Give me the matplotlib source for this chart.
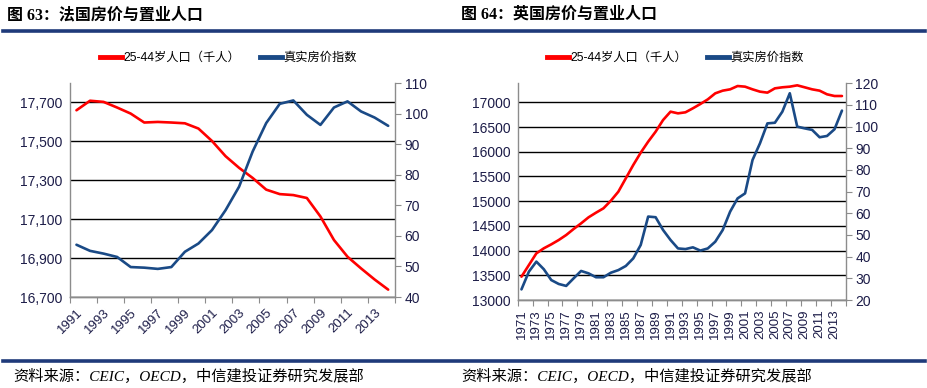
import matplotlib.pyplot as plt
from matplotlib.lines import Line2D
from matplotlib.ticker import FuncFormatter

plt.rcParams['font.family'] = ['Liberation Sans', 'Noto Sans CJK SC']

# France, 1991-2014
fr_years = list(range(1991, 2015))
fr_pop = [17660, 17709, 17703, 17674, 17643, 17597, 17600, 17597, 17593, 17566,
          17502, 17424, 17364, 17312, 17252, 17229, 17224, 17209, 17114, 16993,
          16907, 16847, 16790, 16738]
fr_price = [57.1, 55.1, 54.2, 53.1, 49.8, 49.6, 49.2, 49.8, 54.8, 57.5,
            61.9, 68.4, 76.1, 87.6, 96.9, 103.2, 104.3, 99.6, 96.3, 102.0,
            104.0, 100.7, 98.7, 96.0]

# UK, 1971-2014
uk_years = list(range(1971, 2015))
uk_pop = [13472, 13708, 13944, 14046, 14126, 14214, 14315, 14437, 14551, 14673,
          14767, 14855, 15010, 15192, 15462, 15732, 15981, 16204, 16406, 16642,
          16811, 16777, 16798, 16879, 16966, 17060, 17182, 17236, 17263, 17330,
          17317, 17263, 17216, 17196, 17283, 17304, 17317, 17344, 17304, 17263,
          17236, 17162, 17128, 17128]
uk_price = [24.9, 33.1, 37.7, 34.2, 29.2, 27.4, 26.5, 30.0, 33.4, 32.3,
            30.5, 30.5, 32.6, 33.8, 35.7, 39.2, 45.4, 58.5, 58.2, 52.3,
            47.7, 43.8, 43.5, 44.3, 42.8, 43.8, 46.9, 52.3, 60.8, 66.9,
            69.2, 84.6, 92.3, 101.5, 101.8, 106.9, 115.4, 100.0, 99.2, 98.5,
            95.1, 95.7, 98.8, 107.4]

pop_label = '25-44岁人口（千人）'
price_label = '真实房价指数'
RED = '#ff0000'
BLUE = '#1a4a86'
NAVY = '#1f3a7a'
TICK_C = '#1c1c48'
GRAY = '#8c8c8c'

fig = plt.figure(figsize=(9.28, 3.88), dpi=100)


def draw_panel(rect, years, pop, price, ylim_l, lticks, ylim_r, rticks, rot, lfmt):
    ax = fig.add_axes(rect)
    ax2 = ax.twinx()
    x = list(range(len(years)))
    ax.plot(x, pop, color=RED, lw=1.9, solid_capstyle='round', zorder=3)
    ax2.plot(x, price, color=BLUE, lw=1.9, solid_capstyle='round', zorder=3)

    n = len(years)
    ax.set_xlim(-0.5, n - 0.5)
    ax.set_ylim(*ylim_l)
    ax.set_yticks(lticks)
    ax.yaxis.set_major_formatter(FuncFormatter(lfmt))
    ax2.set_ylim(*ylim_r)
    ax2.set_yticks(rticks)
    ax.grid(axis='y', color='black', lw=1.0)
    ax.set_axisbelow(True)

    # category-style ticks at boundaries, labels every 2nd year
    ax.set_xticks([i - 0.5 for i in range(0, n + 1, 2)])
    ax.set_xticklabels([])
    ax.set_xticks(list(range(0, n, 2)), minor=True)
    labs = [str(years[i]) for i in range(0, n, 2)]
    if rot == 45:
        ax.set_xticklabels(labs, minor=True, rotation=45, ha='right', va='top',
                           rotation_mode='anchor')
    else:
        ax.set_xticklabels(labs, minor=True, rotation=90, ha='center', va='top')
    ax.tick_params(axis='x', which='minor', length=0, pad=7, labelsize=9.5,
                   labelcolor=TICK_C)
    ax.tick_params(axis='x', which='major', length=4, color=GRAY, direction='out')
    ax.tick_params(axis='y', length=0, labelsize=10, labelcolor=TICK_C, pad=5)
    ax2.tick_params(axis='y', length=4, color=GRAY, labelsize=10,
                    labelcolor=TICK_C, pad=3)

    for a in (ax, ax2):
        a.spines['top'].set_visible(False)
        for s in ('left', 'right', 'bottom'):
            a.spines[s].set_color(GRAY)
            a.spines[s].set_linewidth(1.0)
    ax2.spines['left'].set_visible(False)
    ax.spines['right'].set_visible(False)
    ax.patch.set_visible(False)
    return ax, ax2


draw_panel([0.0751, 0.2345, 0.3505, 0.5515], fr_years, fr_pop, fr_price,
           (16700, 17800), list(range(16700, 17701, 200)), (40, 110),
           list(range(40, 111, 10)), 45, lambda v, p: f'{int(v):,}')
draw_panel([0.5579, 0.2268, 0.3534, 0.5585], uk_years, uk_pop, uk_price,
           (13000, 17385), list(range(13000, 17001, 500)), (20, 120),
           list(range(20, 121, 10)), 90, lambda v, p: f'{int(v)}')

handles = [Line2D([], [], color=RED, lw=3.5), Line2D([], [], color=BLUE, lw=3.5)]
for cx in (0.246, 0.728):
    fig.legend(handles, [pop_label, price_label], loc='center',
               bbox_to_anchor=(cx, 0.851), ncol=2, frameon=False, fontsize=8.8,
               handlelength=1.8, handletextpad=0.1, columnspacing=1.6)

# headers
title_font = ['Liberation Serif', 'Noto Sans CJK SC']
fig.text(0.008, 1 - 15 / 388, '图 63：法国房价与置业人口', fontsize=11.5,
         fontweight='bold', family=title_font, va='center', ha='left')
fig.text(0.497, 1 - 15 / 388, '图 64：英国房价与置业人口', fontsize=11.5,
         fontweight='bold', family=title_font, va='center', ha='left')
fig.add_artist(Line2D([0.003, 0.997], [1 - 31 / 388] * 2, color=NAVY, lw=2.6))
fig.add_artist(Line2D([0.003, 0.997], [1 - 361 / 388] * 2, color=NAVY, lw=2.6))

src = '资料来源：CEIC，OECD，中信建投证券研究发展部'
fig.text(0.014, 1 - 376 / 388, src, fontsize=11, style='italic',
         family=title_font, va='center', ha='left')
fig.text(0.497, 1 - 376 / 388, src, fontsize=11, style='italic',
         family=title_font, va='center', ha='left')

fig.savefig('out.png', dpi=100)
